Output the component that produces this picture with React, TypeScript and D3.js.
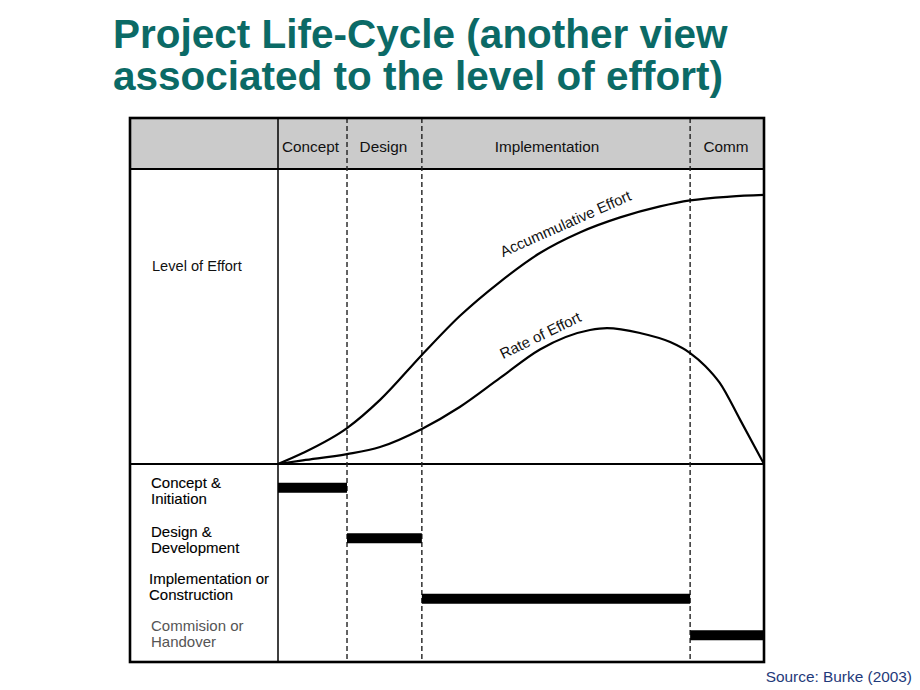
import React from "react";
import * as d3 from "d3";

// ---- data ----
const titleLines = ["Project Life-Cycle (another view", "associated to the level of effort)"];
const phaseNames = ["Concept", "Design", "Implementation", "Comm"];
const phaseBounds = [0, 14.2, 29.6, 84.8, 100]; // % of project time
const rowLabels = [
  ["Concept &", "Initiation"],
  ["Design &", "Development"],
  ["Implementation or", "Construction"],
  ["Commision or", "Handover"],
];
const accumTime = [0, 5.1, 14.2, 21.0, 29.6, 37.4, 45.7, 53.9, 62.1, 70.4, 78.6, 84.8, 93.0, 100];
const accumEffort = [0, 4.0, 13.1, 23.4, 39.8, 54.0, 66.5, 77.0, 84.5, 90.0, 94.0, 96.2, 97.6, 98.2];
const rateTime = [0, 5.1, 14.2, 21.0, 29.6, 37.4, 45.7, 53.9, 64.2, 67.7, 74.5, 80.7, 84.8, 87.9, 90.9, 95.1, 100];
const rateEffort = [0, 1.3, 3.6, 6.2, 12.8, 20.8, 31.4, 41.8, 48.9, 49.6, 47.8, 44.5, 40.5, 35.8, 29.6, 16.1, 0];
const curveLabels = ["Accummulative Effort", "Rate of Effort"];
const curveLabelAt = [[46.3, 75.5], [46.3, 38.2]];
const curveLabelAngle = [-24, -26];
const sourceText = "Source: Burke (2003)";

export default function App() {
  const W = 920, H = 690;
  const box = { l: 130, r: 764, t: 118, b: 662 };
  const headerB = 169;
  const leftColR = 278;
  const midY = 464;

  const x = d3.scaleLinear().domain([0, 100]).range([leftColR, box.r]);
  const y = d3.scaleLinear().domain([0, 100]).range([midY, 190]);
  const rowY = d3.scaleBand<number>().domain(d3.range(rowLabels.length)).range([midY, box.b]);

  const line = d3
    .line<[number, number]>()
    .x((d) => x(d[0]))
    .y((d) => y(d[1]))
    .curve(d3.curveMonotoneX);

  const accumPath = line(accumTime.map((t, i) => [t, accumEffort[i]]) as [number, number][]) || "";
  const ratePath = line(rateTime.map((t, i) => [t, rateEffort[i]]) as [number, number][]) || "";

  const font = "'Liberation Sans', Arial, Helvetica, sans-serif";
  const headerDx = [-2, -1, -9, -1];
  const labelDy = [0, 0, -3, -5];
  const barDy = [-1, 0, 11, -2];

  return (
    <svg width={W} height={H} style={{ position: "absolute", left: 0, top: 0, background: "#fff" }} fontFamily={font}>
      {/* title */}
      {titleLines.map((t, i) => (
        <text key={i} x={113} y={48 + i * 42} fontSize={40.5} fontWeight="bold" fill="#0b6a66">
          {t}
        </text>
      ))}

      {/* header band */}
      <rect x={box.l} y={box.t} width={box.r - box.l} height={headerB - box.t} fill="#cbcbcb" />

      {/* inner lines */}
      <line x1={box.l} x2={box.r} y1={headerB} y2={headerB} stroke="#000" strokeWidth={2} />
      <line x1={box.l} x2={box.r} y1={midY} y2={midY} stroke="#000" strokeWidth={1.8} />
      <line x1={leftColR} x2={leftColR} y1={box.t} y2={box.b} stroke="#000" strokeWidth={1.5} />

      {/* dashed phase boundaries */}
      {phaseBounds.slice(1, -1).map((b, i) => (
        <line key={i} x1={x(b)} x2={x(b)} y1={box.t} y2={box.b} stroke="#222" strokeWidth={1.4} strokeDasharray="5,3" />
      ))}

      {/* phase names */}
      {phaseNames.map((n, i) => (
        <text
          key={n}
          x={(x(phaseBounds[i]) + x(phaseBounds[i + 1])) / 2 + headerDx[i]}
          y={152}
          fontSize={15.3}
          textAnchor="middle"
          fill="#111"
        >
          {n}
        </text>
      ))}

      {/* level of effort label */}
      <text x={152} y={271} fontSize={14.6} fill="#111">Level of Effort</text>

      {/* curves */}
      <path d={accumPath} fill="none" stroke="#000" strokeWidth={2.2} />
      <path d={ratePath} fill="none" stroke="#000" strokeWidth={2.2} />
      {curveLabels.map((l, i) => (
        <text
          key={l}
          transform={`translate(${x(curveLabelAt[i][0])},${y(curveLabelAt[i][1])}) rotate(${curveLabelAngle[i]})`}
          fontSize={15}
          fill="#111"
        >
          {l}
        </text>
      ))}

      {/* row labels and bars */}
      {rowLabels.map((lines, i) => {
        const cy = (rowY(i) as number) + rowY.bandwidth() / 2;
        const last = i === rowLabels.length - 1;
        return (
          <g key={i}>
            {lines.map((s, j) => (
              <text
                key={j}
                x={i === 2 ? 149 : 151}
                y={cy + j * 16 - 1 + labelDy[i]}
                fontSize={15}
                fill={last ? "#555" : "#000"}
                stroke={last ? "none" : "#000"}
                strokeWidth={last ? 0 : 0.12}
              >
                {s}
              </text>
            ))}
            <rect
              x={x(phaseBounds[i])}
              y={cy - 5 + barDy[i]}
              width={x(phaseBounds[i + 1]) - x(phaseBounds[i])}
              height={10}
              fill="#000"
            />
          </g>
        );
      })}

      {/* outer border */}
      <rect x={box.l} y={box.t} width={box.r - box.l} height={box.b - box.t} fill="none" stroke="#000" strokeWidth={2.6} />

      {/* source */}
      <text x={912} y={682} fontSize={15.4} textAnchor="end" fill="#1f3a7a">
        {sourceText}
      </text>
    </svg>
  );
}
